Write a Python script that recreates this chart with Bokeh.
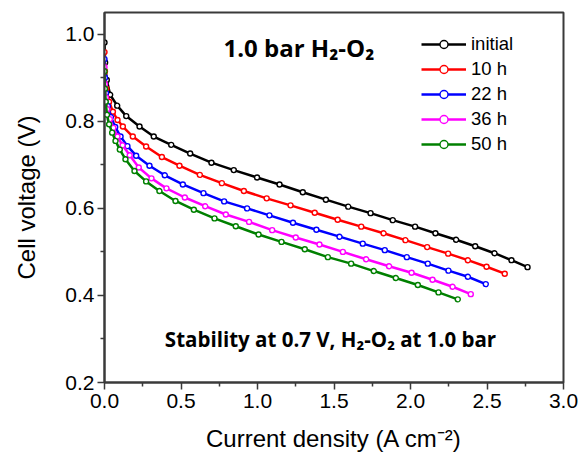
from bokeh.plotting import figure
from bokeh.models import Label, Legend, LegendItem, Range1d, FixedTicker
from bokeh.embed import file_html
from bokeh.resources import INLINE

# ---- data ----
series_names = ["initial", "10 h", "22 h", "36 h", "50 h"]
series_colors = ["#000000", "#ff0000", "#0000ff", "#ff00ff", "#008000"]

j_initial = [0, 0.004, 0.015, 0.037, 0.083, 0.142, 0.229, 0.322, 0.436, 0.56, 0.699, 0.845, 0.997,
             1.144, 1.296, 1.447, 1.593, 1.739, 1.884, 2.03, 2.163, 2.298, 2.423, 2.549, 2.66, 2.765]
v_initial = [0.981, 0.935, 0.895, 0.861, 0.836, 0.812, 0.788, 0.765, 0.746, 0.726, 0.705, 0.688, 0.671,
             0.655, 0.637, 0.620, 0.604, 0.589, 0.573, 0.558, 0.543, 0.528, 0.513, 0.497, 0.481, 0.465]

j_10h = [0, 0.003, 0.012, 0.03, 0.055, 0.085, 0.12, 0.185, 0.272, 0.375, 0.49, 0.623, 0.767, 0.911,
         1.06, 1.216, 1.374, 1.524, 1.678, 1.824, 1.967, 2.109, 2.246, 2.375, 2.497, 2.616]
v_10h = [0.959, 0.915, 0.875, 0.845, 0.822, 0.803, 0.788, 0.765, 0.742, 0.718, 0.698, 0.677, 0.658, 0.640,
         0.623, 0.607, 0.590, 0.574, 0.558, 0.543, 0.527, 0.511, 0.496, 0.481, 0.466, 0.450]

j_22h = [0, 0.003, 0.01, 0.022, 0.042, 0.07, 0.105, 0.15, 0.207, 0.294, 0.394, 0.512, 0.647, 0.782, 0.932,
         1.078, 1.232, 1.385, 1.536, 1.688, 1.832, 1.976, 2.113, 2.248, 2.375, 2.492]
v_22h = [0.943, 0.9, 0.865, 0.835, 0.81, 0.787, 0.765, 0.743, 0.721, 0.698, 0.676, 0.655, 0.635, 0.616, 0.600,
         0.584, 0.567, 0.551, 0.535, 0.519, 0.504, 0.488, 0.473, 0.457, 0.443, 0.426]

j_36h = [0, 0.003, 0.009, 0.018, 0.035, 0.058, 0.085, 0.118, 0.165, 0.224, 0.307, 0.405, 0.525, 0.658,
         0.793, 0.945, 1.096, 1.25, 1.405, 1.558, 1.71, 1.86, 2.007, 2.144, 2.275, 2.394]
v_36h = [0.925, 0.885, 0.855, 0.828, 0.805, 0.785, 0.765, 0.745, 0.722, 0.694, 0.669, 0.646, 0.625, 0.605,
         0.586, 0.569, 0.550, 0.533, 0.517, 0.500, 0.483, 0.467, 0.452, 0.436, 0.420, 0.403]

j_50h = [0, 0.003, 0.008, 0.016, 0.03, 0.05, 0.072, 0.1, 0.137, 0.196, 0.272, 0.359, 0.464, 0.584, 0.719,
         0.858, 1.007, 1.157, 1.309, 1.46, 1.612, 1.76, 1.904, 2.048, 2.183, 2.309]
v_50h = [0.915, 0.875, 0.845, 0.815, 0.793, 0.774, 0.755, 0.735, 0.713, 0.686, 0.662, 0.640, 0.617, 0.597,
         0.577, 0.559, 0.540, 0.523, 0.506, 0.488, 0.473, 0.456, 0.440, 0.424, 0.407, 0.391]

x_ticks = [0.0, 0.5, 1.0, 1.5, 2.0, 2.5, 3.0]
y_ticks = [0.2, 0.4, 0.6, 0.8, 1.0]
x_minor = [0.25, 0.75, 1.25, 1.75, 2.25, 2.75]
y_minor = [0.3, 0.5, 0.7, 0.9]

title_text = "1.0 bar H\u2082-O\u2082"
note_text = "Stability at 0.7 V, H\u2082-O\u2082 at 1.0 bar"
x_label = "Current density (A cm\u207b\u00b2)"
y_label = "Cell voltage (V)"

all_j = [j_initial, j_10h, j_22h, j_36h, j_50h]
all_v = [v_initial, v_10h, v_22h, v_36h, v_50h]

# ---- figure ----
p = figure(width=580, height=462, output_backend="svg", toolbar_location=None,
           x_range=Range1d(0, 3.0), y_range=Range1d(0.2, 1.05))
p.min_border_left = 104
p.min_border_right = 17
p.min_border_top = 12
p.min_border_bottom = 80
p.background_fill_color = "white"
p.border_fill_color = "white"
p.grid.visible = False
p.outline_line_color = "#3a3a3a"
p.outline_line_width = 2

p.xaxis.ticker = FixedTicker(ticks=x_ticks, minor_ticks=x_minor)
p.yaxis.ticker = FixedTicker(ticks=y_ticks, minor_ticks=y_minor)
p.xaxis.major_label_overrides = {t: f"{t:.1f}" for t in x_ticks}
p.yaxis.major_label_overrides = {t: f"{t:.1f}" for t in y_ticks}

for ax in (p.xaxis[0], p.yaxis[0]):
    ax.axis_line_color = "#3a3a3a"
    ax.axis_line_width = 2
    ax.major_tick_line_color = "#3a3a3a"
    ax.minor_tick_line_color = "#3a3a3a"
    ax.major_tick_line_width = 1.5
    ax.minor_tick_line_width = 1.5
    ax.major_tick_in = 0
    ax.major_tick_out = 7
    ax.minor_tick_in = 0
    ax.minor_tick_out = 4
    ax.major_label_text_font = "Liberation Sans"
    ax.major_label_text_font_size = "21px"
    ax.major_label_text_color = "black"
    ax.axis_label_text_font = "Liberation Sans"
    ax.axis_label_text_font_size = "24px"
    ax.axis_label_text_font_style = "normal"
    ax.axis_label_text_color = "black"

p.xaxis.axis_label = x_label
p.yaxis.axis_label = y_label
p.xaxis.major_label_standoff = 4
p.yaxis.major_label_standoff = 3
p.xaxis.axis_label_standoff = 14
p.yaxis.axis_label_standoff = 22

items = []
for name, color, jj, vv in zip(series_names, series_colors, all_j, all_v):
    r_line = p.line(jj, vv, line_color=color, line_width=2.5)
    r_pts = p.scatter(jj, vv, marker="circle", size=5, line_color=color,
                      fill_color="white", line_width=1.4)
    items.append(LegendItem(label=name, renderers=[r_line, r_pts]))

legend = Legend(items=items, location=(317, 227))
legend.label_text_font = "Liberation Sans"
legend.label_text_font_size = "18.5px"
legend.label_text_color = "black"
legend.glyph_width = 45
legend.glyph_height = 20
legend.label_height = 20
legend.spacing = 3
legend.padding = 0
legend.margin = 0
legend.label_standoff = 5
legend.border_line_color = None
legend.background_fill_alpha = 0
p.add_layout(legend)

p.add_layout(Label(x=0.778, y=0.970, text=title_text, text_font="Open Sans",
                   text_font_style="bold", text_font_size="24px", text_color="black",
                   text_baseline="middle", text_align="left"))
p.add_layout(Label(x=1.477, y=0.301, text=note_text, text_font="Open Sans",
                   text_font_style="bold", text_font_size="20.5px", text_color="black",
                   text_baseline="middle", text_align="center"))

open("out.html", "w").write(file_html(p, INLINE))
